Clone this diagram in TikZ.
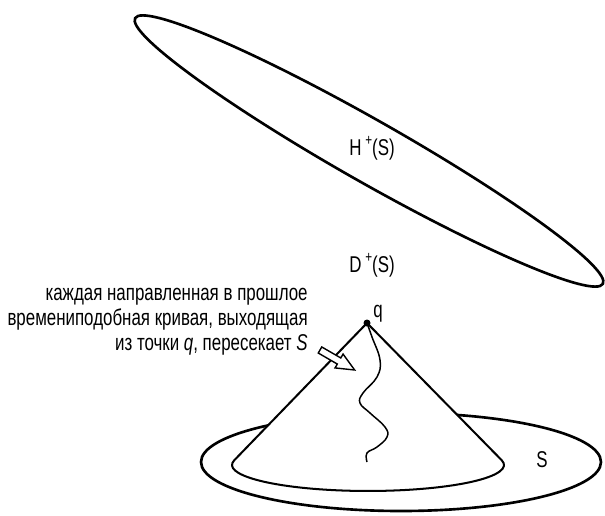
\documentclass[tikz,border=0pt]{standalone}
\usepackage{fontspec}
\setmainfont{Liberation Sans}[FakeStretch=0.74]
\usetikzlibrary{positioning}
\newcommand{\futureplus}{\,\raisebox{5.5pt}{\fontsize{9pt}{9pt}\selectfont +}}

\begin{document}
\begin{tikzpicture}[
    x=0.02cm, y=0.02cm,
    % Styles
    surface/.style={
        draw=black,
        line width=1.5pt
    },
    cone/.style={
        draw=black,
        fill=white,
        line width=1.15pt,
        line join=round
    },
    worldline/.style={
        line width=0.85pt
    },
    hollowarrow/.style={
        draw=black,
        fill=white,
        line width=0.8pt,
        line join=miter
    },
    label/.style={
        font=\fontsize{13pt}{14.2pt}\selectfont,
        inner sep=0pt
    }
]
\useasboundingbox (0,0) rectangle (605,515);

% Cauchy horizon
\draw[surface] (369,364) ellipse [x radius=269, y radius=31, rotate=-29.6];
\node[label] (horizon) at (372,367) {H\futureplus(S)};
\node[label] (domain) at (372,250) {D\futureplus(S)};

% Surface S
\draw[surface] (401,53) ellipse [x radius=200, y radius=49];
\node[label] (surfS) at (542,55) {S};

% Past light cone of q
\coordinate (q) at (367,192);
\coordinate (baseL) at (234.3,54.76);
\draw[cone] (q) -- (baseL) arc [start angle=169.5, end angle=370.5, x radius=136, y radius=26] -- cycle;
\fill (q) circle (3.5);
\node[label, anchor=west] (qlabel) at (373,201) {q};

% Timelike curve
\draw[worldline] plot[smooth, tension=0.7] coordinates {
    (q) (372,178) (380,155) (377,138) (363,122) (360,112)
    (370,102) (385,88) (387,78) (377,68) (367,62) (367,53)};

% Annotation
\node[label, align=right, anchor=east] (note) at (308,193)
    {каждая направленная в прошлое\\времениподобная кривая, выходящая\\из точки \textit{q}, пересекает \textit{S}};
\draw[hollowarrow, shift={(320,165)}, rotate=-30]
    (0,-3.5) -- (22,-3.5) -- (22,-8) -- (40,0) -- (22,8) -- (22,3.5) -- (0,3.5) -- cycle;

\end{tikzpicture}
\end{document}
